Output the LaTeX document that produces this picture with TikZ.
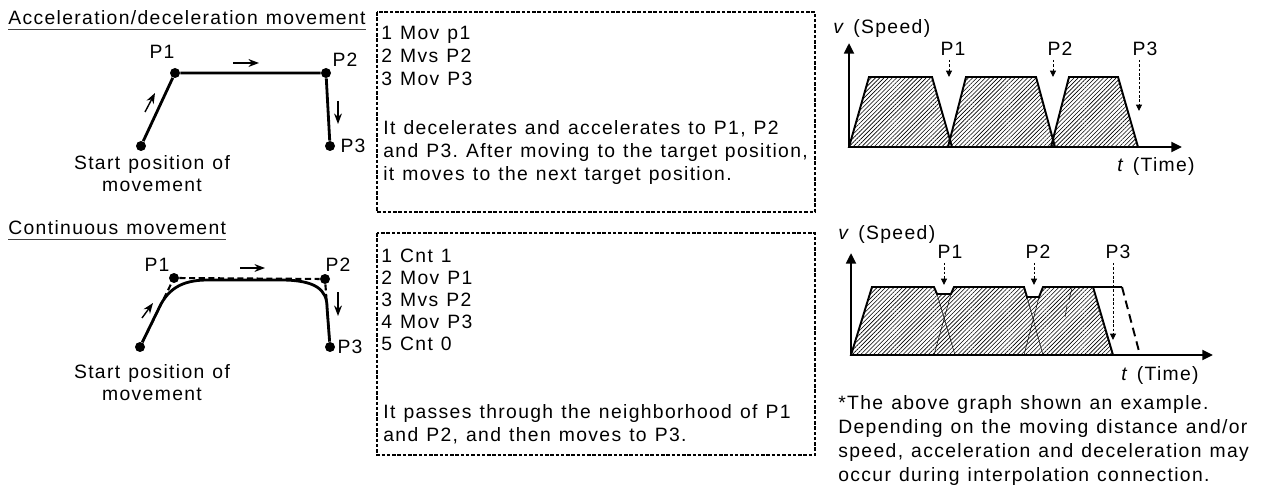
\documentclass[tikz,border=0pt]{standalone}
\usepackage{fontspec}
\setmainfont{Liberation Sans}[LetterSpace=7, WordSpace=1.2]
\usetikzlibrary{arrows.meta, positioning, patterns.meta, calc}
\frenchspacing

\begin{document}
\begin{tikzpicture}[
    x=0.02cm, y=-0.02cm,
    >=Stealth,
    txt/.style={font=\fontsize{11}{13}\selectfont, inner sep=0pt, text height=7.9pt, text depth=0pt},
    ltxt/.style={txt, anchor=west},
    dot/.style={circle, fill, inner sep=0pt, minimum size=0.2cm},
    route/.style={line width=1.6pt},
    guide/.style={line width=1.2pt, dash pattern=on 3.5pt off 2pt},
    dir/.style={-{Stealth[length=6pt,width=4.5pt]}, line width=0.8pt},
    axis/.style={-{Triangle[length=6pt,width=5.5pt]}, line width=1.6pt},
    trap/.style={line width=1.1pt, pattern={Lines[angle=45,distance=1.7pt,line width=0.35pt]}},
    hidden/.style={line width=0.3pt},
    pmark/.style={-{Triangle[length=3.6pt,width=3.4pt]}, line width=0.5pt, dash pattern=on 1.5pt off 1pt},
    dashbox/.style={line width=0.8pt, dash pattern=on 2pt off 1pt},
    uline/.style={line width=0.6pt, black!75},
]
\useasboundingbox (0,0) rectangle (1261,493);
% === LEFT: Acceleration/deceleration movement ===
\node[ltxt] (ttl1) at (8,18) {Acceleration/deceleration movement};
\draw[uline] ([yshift=-2.6pt]ttl1.south west) -- ([yshift=-2.6pt]ttl1.south east);
%
\node[dot] (a0) at (141,146) {};
\node[dot] (a1) at (175,73) {};
\node[dot] (a2) at (326,73) {};
\node[dot] (a3) at (330,146) {};
\draw[route] (a0) -- (a1) -- (a2) -- (a3);
\node[txt] (a1l) at (162,52) {P1};
\node[txt] (a2l) at (345,60) {P2};
\node[txt] (a3l) at (353,146) {P3};
\node[txt] (a0l) at (152,163) {Start position of};
\node[txt, below=4pt of a0l] {movement};
\draw[dir] (145,112) -- (155,93);
\draw[dir] (233,63) -- (259,63);
\draw[dir] (338,101) -- (338,124);
% === LEFT: Continuous movement ===
\node[ltxt] (ttl2) at (8,228) {Continuous movement};
\draw[uline] ([yshift=-2.6pt]ttl2.south west) -- ([yshift=-2.6pt]ttl2.south east);
%
\node[dot] (b0) at (140,347) {};
\node[dot] (b1) at (174,278) {};
\node[dot] (b2) at (325,279) {};
\node[dot] (b3) at (330,347) {};
\draw[guide] (b0) -- (b1) -- (b2) -- (b3);
\draw[route] (b0) -- (161,304) .. controls (171,286) and (186,280) .. (208,280)
    -- (281,280) .. controls (316,280) and (327,290) .. (327,307) -- (b3);
\node[txt] (b1l) at (157,265) {P1};
\node[txt] (b2l) at (338,265) {P2};
\node[txt] (b3l) at (350,347) {P3};
\node[txt] (b0l) at (152,372) {Start position of};
\node[txt, below=4pt of b0l] {movement};
\draw[dir] (142,318) -- (153,303);
\draw[dir] (240,268) -- (265,268);
\draw[dir] (338,292) -- (338,316);
% === MIDDLE: programs ===
\draw[dashbox] (377,12) rectangle (815,212);
\foreach \l [count=\i] in {1 Mov p1, 2 Mvs P2, 3 Mov P3} {
    \node[ltxt] (pa\i) at (381, 10+23*\i) {\l};
}
\foreach \l [count=\i] in {It decelerates and accelerates to P1{,} P2, {and P3. After moving to the target position,}, it moves to the next target position.} {
    \node[ltxt] (qa\i) at (383, 105+23*\i) {\l};
}
%
\draw[dashbox] (377,233) rectangle (815,455);
\foreach \l [count=\i] in {1 Cnt 1, 2 Mov P1, 3 Mvs P2, 4 Mov P3, 5 Cnt 0} {
    \node[ltxt] (pb\i) at (381, 234+22*\i) {\l};
}
\foreach \l [count=\i] in {It passes through the neighborhood of P1, {and P2, and then moves to P3.}} {
    \node[ltxt] (qb\i) at (383, 389+23*\i) {\l};
}
% === RIGHT: speed graph, acceleration/deceleration ===
\coordinate (o1) at (849,147);
\coordinate (v1) at (849,43);
\coordinate (t1) at (1182,147);
\draw[trap] (849,147) -- (869,77) -- (932,77) -- (952,147) -- cycle;
\draw[trap] (948,147) -- (966,77) -- (1036,77) -- (1055,147) -- cycle;
\draw[trap] (1051,147) -- (1069,77) -- (1118,77) -- (1138,147) -- cycle;
\draw[axis] (o1) -- (v1);
\draw[axis] (o1) -- (t1);
\node[ltxt] (sp1) at (833,27) {\textit{v} (Speed)};
\node[txt] (tm1) at (1156,165) {\textit{t} (Time)};
\node[txt] (g1p1) at (953,49) {P1};
\node[txt] (g1p2) at (1060,49) {P2};
\node[txt] (g1p3) at (1145,49) {P3};
\coordinate (m11) at (949,77);
\coordinate (m12) at (1053,77);
\coordinate (m13) at (1139,111);
\draw[pmark] (m11 |- g1p1.south) ++(0,-2pt) -- (m11);
\draw[pmark] (m12 |- g1p2.south) ++(0,-2pt) -- (m12);
\draw[pmark] (m13 |- g1p3.south) ++(0,-2pt) -- (m13);
% === RIGHT: speed graph, continuous ===
\coordinate (o2) at (851,355);
\coordinate (v2) at (851,253);
\coordinate (t2) at (1213,355);
\draw[trap] (851,355) -- (872,287) -- (934,287) -- (937,294) -- (951,294) -- (954,287)
    -- (1024,287) -- (1027,297) -- (1039,297) -- (1043,287) -- (1093,287) -- (1113,355) -- cycle;
\draw[hidden] (937,294) -- (955,355);
\draw[hidden] (951,294) -- (934,355);
\draw[hidden] (1027,297) -- (1043,355);
\draw[hidden] (1039,297) -- (1024,355);
\draw[hidden] (1072,288) -- (1069,300);
\draw[hidden] (1067,306) -- (1065,317);
\draw[line width=1.1pt] (1093,287) -- (1122,287);
\draw[line width=1.1pt, dash pattern=on 5pt off 3pt] (1122,287) -- (1140,355);
\draw[axis] (o2) -- (v2);
\draw[axis] (o2) -- (t2);
\node[ltxt] (sp2) at (838,233) {\textit{v} (Speed)};
\node[txt] (tm2) at (1160,374) {\textit{t} (Time)};
\node[txt] (g2p1) at (950,252) {P1};
\node[txt] (g2p2) at (1038,252) {P2};
\node[txt] (g2p3) at (1118,252) {P3};
\coordinate (m21) at (944,285);
\coordinate (m22) at (1034,285);
\coordinate (m23) at (1113,340);
\draw[pmark] (m21 |- g2p1.south) ++(0,-2pt) -- (m21);
\draw[pmark] (m22 |- g2p2.south) ++(0,-2pt) -- (m22);
\draw[pmark] (m23 |- g2p3.south) ++(0,-2pt) -- (m23);
% note
\foreach \l [count=\i] in {*The above graph shown an example., Depending on the moving distance and/or, {speed, acceleration and deceleration may}, occur during interpolation connection.} {
    \node[ltxt] (nt\i) at (838, 379+24*\i) {\l};
}
\end{tikzpicture}
\end{document}
